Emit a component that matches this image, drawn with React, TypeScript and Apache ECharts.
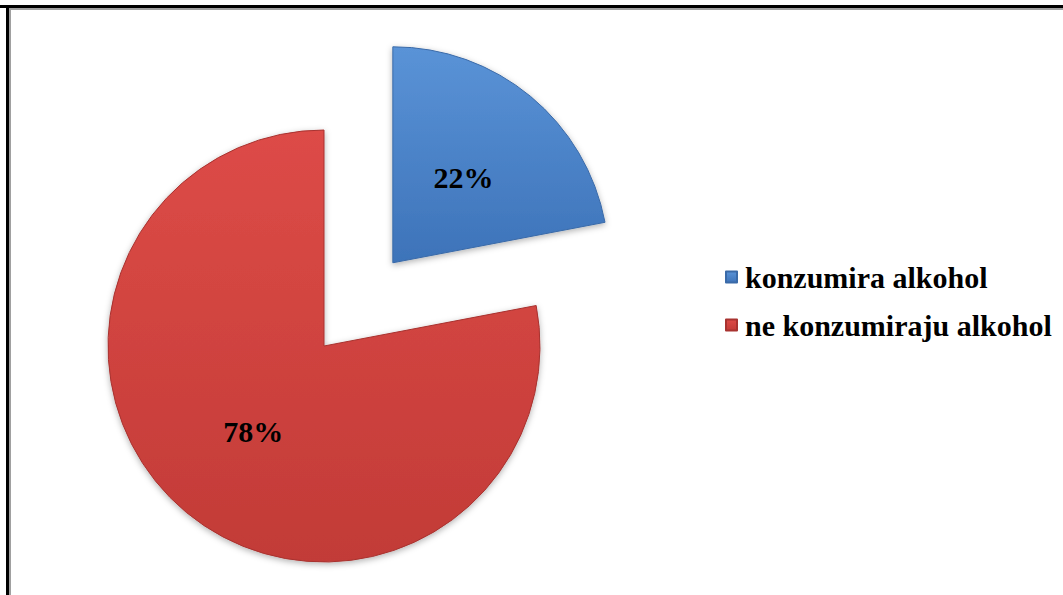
import React, { useEffect, useRef } from "react";
import * as echarts from "echarts";

const categories = ["konzumira alkohol", "ne konzumiraju alkohol"];
const values = [22, 78];
const explodedIndex = 0;

const SERIF = "Times New Roman, Liberation Serif, serif";

export default function App() {
  const ref = useRef<HTMLDivElement>(null);
  useEffect(() => {
    document.body.style.margin = "0";
    const chart = echarts.init(ref.current!, null, { renderer: "svg" });
    const blue = new echarts.graphic.LinearGradient(0, 0, 0, 1, [
      { offset: 0, color: "#5a93d7" },
      { offset: 1, color: "#3d73b9" },
    ]);
    const red = new echarts.graphic.LinearGradient(0, 0, 0, 1, [
      { offset: 0, color: "#dd4b47" },
      { offset: 1, color: "#c23b37" },
    ]);
    const fills = [blue, red];
    const borders = ["#3a6aa8", "#a83330"];
    chart.setOption({
      animation: false,
      backgroundColor: "#ffffff",
      legend: {
        orient: "vertical",
        left: 720,
        top: 257,
        itemWidth: 11,
        itemHeight: 11,
        itemGap: 18,
        icon: "rect",
        textStyle: {
          fontFamily: SERIF,
          fontWeight: "bold",
          fontSize: 30,
          color: "#000",
          padding: [0, 0, 0, 3],
        },
        data: categories,
      },
      graphic: [
        { type: "rect", shape: { x: 0, y: 5, width: 1063, height: 3 }, style: { fill: "#000" } },
        { type: "rect", shape: { x: 6, y: 5, width: 3, height: 590 }, style: { fill: "#000" } },
        { type: "rect", shape: { x: 9, y: 8, width: 1054, height: 2 }, style: { fill: "#a0a0a0" } },
        { type: "rect", shape: { x: 9, y: 8, width: 2, height: 587 }, style: { fill: "#a0a0a0" } },
      ],
      series: [
        {
          type: "pie",
          center: [324, 346],
          radius: [0, 216],
          startAngle: 90,
          clockwise: true,
          selectedMode: "single",
          selectedOffset: 108,
          legendHoverLink: false,
          label: {
            show: true,
            position: "inside",
            formatter: "{d}%",
            fontFamily: SERIF,
            fontWeight: "bold",
            fontSize: 30,
            color: "#000",
          },
          labelLine: { show: false },
          emphasis: { disabled: true },
          data: categories.map((name, i) => ({
            name,
            value: values[i],
            selected: i === explodedIndex,
            itemStyle: {
              color: fills[i],
              borderColor: borders[i],
              borderWidth: 1,
              shadowBlur: 6,
              shadowColor: "rgba(0,0,0,0.3)",
              shadowOffsetY: 2,
            },
          })),
        },
      ],
    });
    return () => chart.dispose();
  }, []);
  return <div ref={ref} style={{ position: "absolute", left: 0, top: 0, width: 1063, height: 595 }} />;
}
